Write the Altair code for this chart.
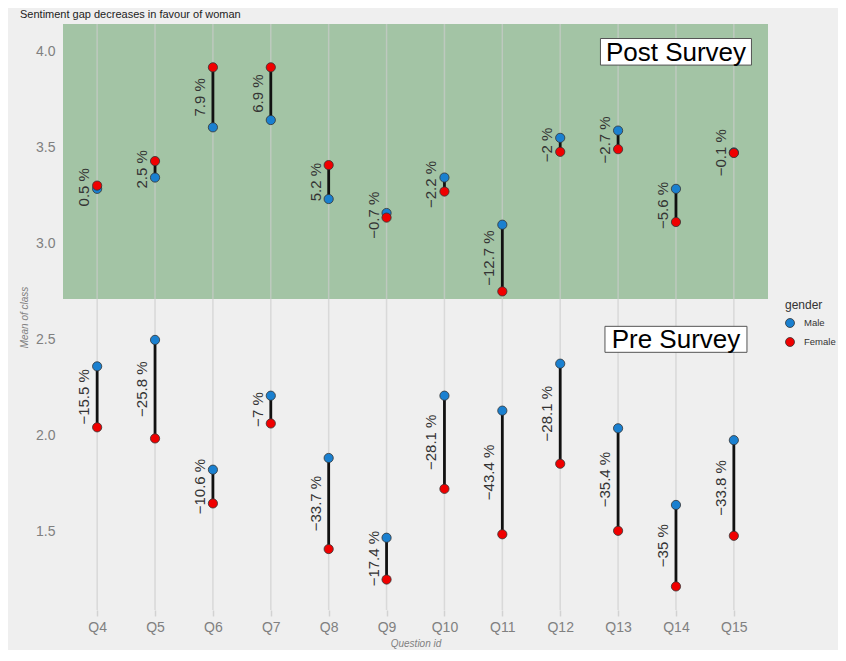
import altair as alt
import pandas as pd

questions = ["Q4", "Q5", "Q6", "Q7", "Q8", "Q9", "Q10", "Q11", "Q12", "Q13", "Q14", "Q15"]

post_male = [3.285, 3.344, 3.606, 3.644, 3.232, 3.159, 3.344, 3.098, 3.551, 3.589, 3.285, 3.475]
post_female = [3.302, 3.430, 3.919, 3.919, 3.409, 3.135, 3.271, 2.750, 3.478, 3.492, 3.112, 3.472]
pre_male = [2.359, 2.497, 1.820, 2.206, 1.881, 1.465, 2.206, 2.128, 2.373, 2.036, 1.636, 1.974]
pre_female = [2.041, 1.983, 1.644, 2.061, 1.406, 1.247, 1.720, 1.483, 1.851, 1.501, 1.211, 1.475]

post_labels = ["0.5 %", "2.5 %", "7.9 %", "6.9 %", "5.2 %", "\u22120.7 %", "\u22122.2 %",
               "\u221212.7 %", "\u22122 %", "\u22122.7 %", "\u22125.6 %", "\u22120.1 %"]
pre_labels = ["\u221215.5 %", "\u221225.8 %", "\u221210.6 %", "\u22127 %", "\u221233.7 %",
              "\u221217.4 %", "\u221228.1 %", "\u221243.4 %", "\u221228.1 %", "\u221235.4 %",
              "\u221235 %", "\u221233.8 %"]

post_zone = [4.145, 2.71]
annot_text = ["Post Survey", "Pre Survey"]
annot_q = ["Q14", "Q14"]
annot_y = [4.0, 2.5]

y_domain = [1.088, 4.145]
y_ticks = [1.5, 2.0, 2.5, 3.0, 3.5, 4.0]

# wide table for segments and labels
wide = pd.DataFrame({
    "question": questions * 2,
    "survey": ["Post"] * len(questions) + ["Pre"] * len(questions),
    "male": post_male + pre_male,
    "female": post_female + pre_female,
    "label": post_labels + pre_labels,
})

# long table for points (male first, female drawn on top)
long_rows = []
for g, col in [("Male", "male"), ("Female", "female")]:
    for _, r in wide.iterrows():
        long_rows.append({"question": r["question"], "survey": r["survey"], "gender": g, "value": r[col]})
long = pd.DataFrame(long_rows)

zone = pd.DataFrame({"top": [post_zone[0]], "bottom": [post_zone[1]]})
annot = pd.DataFrame({"text": annot_text, "question": annot_q, "y": annot_y})
qdf = pd.DataFrame({"question": questions})

W, H = 705, 586
xscale = alt.Scale(type="point", domain=questions, padding=0.59)
yscale = alt.Scale(domain=y_domain, nice=False, zero=False)

x_enc = alt.X("question:N", scale=xscale, sort=questions,
              axis=alt.Axis(title="Question id", labelAngle=0, labelFontSize=14,
                            labelColor="#808080", labelPadding=4, domain=False,
                            ticks=True, tickSize=6, tickColor="#d2d2d2", tickWidth=1.5,
                            grid=False, titleFontSize=10, titleFontStyle="italic",
                            titleFontWeight="normal", titleColor="#808080", titlePadding=4))
y_axis = alt.Axis(title="Mean of class", values=y_ticks, format=".1f", labelFontSize=14,
                  labelColor="#808080", labelPadding=8, domain=False, ticks=False, grid=False,
                  titleFontSize=10, titleFontStyle="italic", titleFontWeight="normal",
                  titleColor="#808080", titlePadding=6)

rect = alt.Chart(zone).mark_rect(color="#a3c4a5").encode(
    x=alt.value(0), x2=alt.value(W),
    y=alt.Y("top:Q", scale=yscale, axis=y_axis),
    y2="bottom:Q",
)

grid = alt.Chart(qdf).mark_rule(color="#cccccc", strokeWidth=1.5, opacity=0.65).encode(
    x=x_enc,
)

seg = alt.Chart(wide).mark_rule(color="#111111", strokeWidth=2.8).encode(
    x=alt.X("question:N", scale=xscale, sort=questions),
    y=alt.Y("male:Q", scale=yscale),
    y2="female:Q",
)

pts = alt.Chart(long).mark_circle(size=85, opacity=1, stroke="#333333", strokeWidth=0.8).encode(
    x=alt.X("question:N", scale=xscale, sort=questions),
    y=alt.Y("value:Q", scale=yscale),
    color=alt.Color("gender:N", scale=alt.Scale(domain=["Male", "Female"], range=["#1a80d0", "#f00000"]),
                    legend=alt.Legend(title="gender", orient="none", legendX=722, legendY=276,
                                      titleFontSize=12, titleFontWeight="normal", titleColor="#333333",
                                      labelFontSize=9.5, labelColor="#333333", symbolSize=80,
                                      symbolStrokeColor="#333333", symbolStrokeWidth=0.8,
                                      symbolType="circle", rowPadding=5, labelOffset=9,
                                      titlePadding=6)),
)

labels = alt.Chart(wide).transform_calculate(
    mid="(datum.male + datum.female) / 2"
).mark_text(angle=270, align="center", baseline="middle", dy=-13, fontSize=15,
            color="#333333").encode(
    x=alt.X("question:N", scale=xscale, sort=questions),
    y=alt.Y("mid:Q", scale=yscale),
    text="label:N",
)

box_post = alt.Chart(annot).transform_filter(alt.datum.text == "Post Survey").mark_point(
    shape="M-1,-0.176L1,-0.176L1,0.176L-1,0.176Z", size=151 * 151, filled=True,
    fill="white", stroke="#555555", strokeWidth=1, opacity=1
).encode(
    x=alt.X("question:N", scale=xscale, sort=questions),
    y=alt.Y("y:Q", scale=yscale),
)
box_pre = alt.Chart(annot).transform_filter(alt.datum.text == "Pre Survey").mark_point(
    shape="M-1,-0.183L1,-0.183L1,0.183L-1,0.183Z", size=142 * 142, filled=True,
    fill="white", stroke="#555555", strokeWidth=1, opacity=1
).encode(
    x=alt.X("question:N", scale=xscale, sort=questions),
    y=alt.Y("y:Q", scale=yscale),
)
box_text = alt.Chart(annot).mark_text(fontSize=26, color="#000000", align="center",
                                       baseline="middle", dy=1).encode(
    x=alt.X("question:N", scale=xscale, sort=questions),
    y=alt.Y("y:Q", scale=yscale),
    text="text:N",
)

chart = alt.layer(rect, grid, seg, pts, labels, box_post, box_pre, box_text).properties(
    width=W, height=H,
    title=alt.TitleParams("Sentiment gap decreases in favour of woman", anchor="start",
                          frame="group", fontSize=11, fontWeight="normal", color="#222222",
                          dx=-43, offset=3),
    background="#efefef",
    padding={"left": 55, "top": 16, "right": 70, "bottom": 40},
    autosize=alt.AutoSizeParams(type="none"),
).configure(font="Liberation Sans").configure_view(stroke=None)

chart.save("out.html", embed_options={"renderer": "svg", "actions": False})
